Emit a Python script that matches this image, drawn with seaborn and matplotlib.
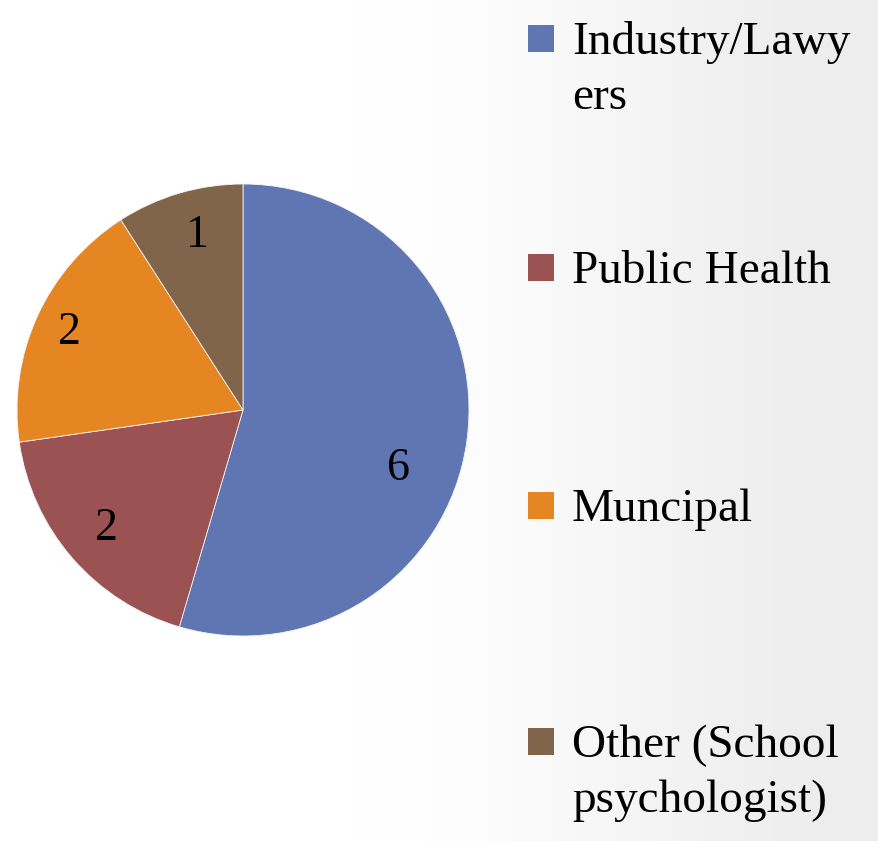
import numpy as np
import matplotlib
matplotlib.use("Agg")
import matplotlib.pyplot as plt
import seaborn as sns
from matplotlib.patches import Rectangle

sns.set_theme(style="white")
plt.rcParams['font.family'] = ['Liberation Serif', 'DejaVu Serif']

categories = ["Industry/Lawy\ners", "Public Health", "Muncipal", "Other (School\npsychologist)"]
values = [6, 2, 2, 1]
colors = ["#5F76B3", "#9B5253", "#E68623", "#81654A"]

W, H = 879, 841
fig = plt.figure(figsize=(W / 100, H / 100), dpi=100)

# background gradient (smooth, RGB floats)
bg = fig.add_axes([0, 0, 1, 1], zorder=-10)
xs = np.linspace(0, 1, 879)
t = np.clip((xs - 0.4) / 0.6, 0, 1)
g = t * t * (3 - 2 * t)
row = 1.0 - 0.07 * g
img = np.dstack([np.tile(row, (20, 1))] * 3)
bg.imshow(img, aspect="auto", extent=[0, 1, 0, 1], interpolation="bilinear")
bg.set_axis_off()

# pie
cx, cy, r = 243, 410, 226
ax = fig.add_axes([(cx - r) / W, (H - cy - r) / H, 2 * r / W, 2 * r / H])
ax.set_facecolor("none")
wedges, texts = ax.pie(values, colors=colors, startangle=90, counterclock=False,
                       labels=[str(v) for v in values], labeldistance=0.8,
                       wedgeprops=dict(edgecolor="#f4f4f4", linewidth=0.6),
                       textprops=dict(fontsize=33, color="black", ha="center", va="center"))
for tx in texts:
    tx.set_ha("center")
    tx.set_va("center")
texts[0].set_position((0.69, -0.26))
texts[2].set_position((-0.77, 0.34))
texts[3].set_position((-0.2, 0.77))
ax.set_xlim(-1, 1)
ax.set_ylim(-1, 1)
ax.set_aspect("equal")
ax.set_axis_off()

# legend
baselines = [54, 283, 521, 757]
line_pitch = 55
for lab, col, b in zip(categories, colors, baselines):
    fig.patches.append(Rectangle((528 / W, (H - b + 2) / H), 26 / W, 27 / H,
                                 transform=fig.transFigure, facecolor=col,
                                 edgecolor="none"))
    for i, line in enumerate(lab.split("\n")):
        fig.text(572 / W, (H - b - i * line_pitch) / H, line, fontsize=34,
                 color="black", ha="left", va="baseline")

fig.savefig("out.png", dpi=100)
